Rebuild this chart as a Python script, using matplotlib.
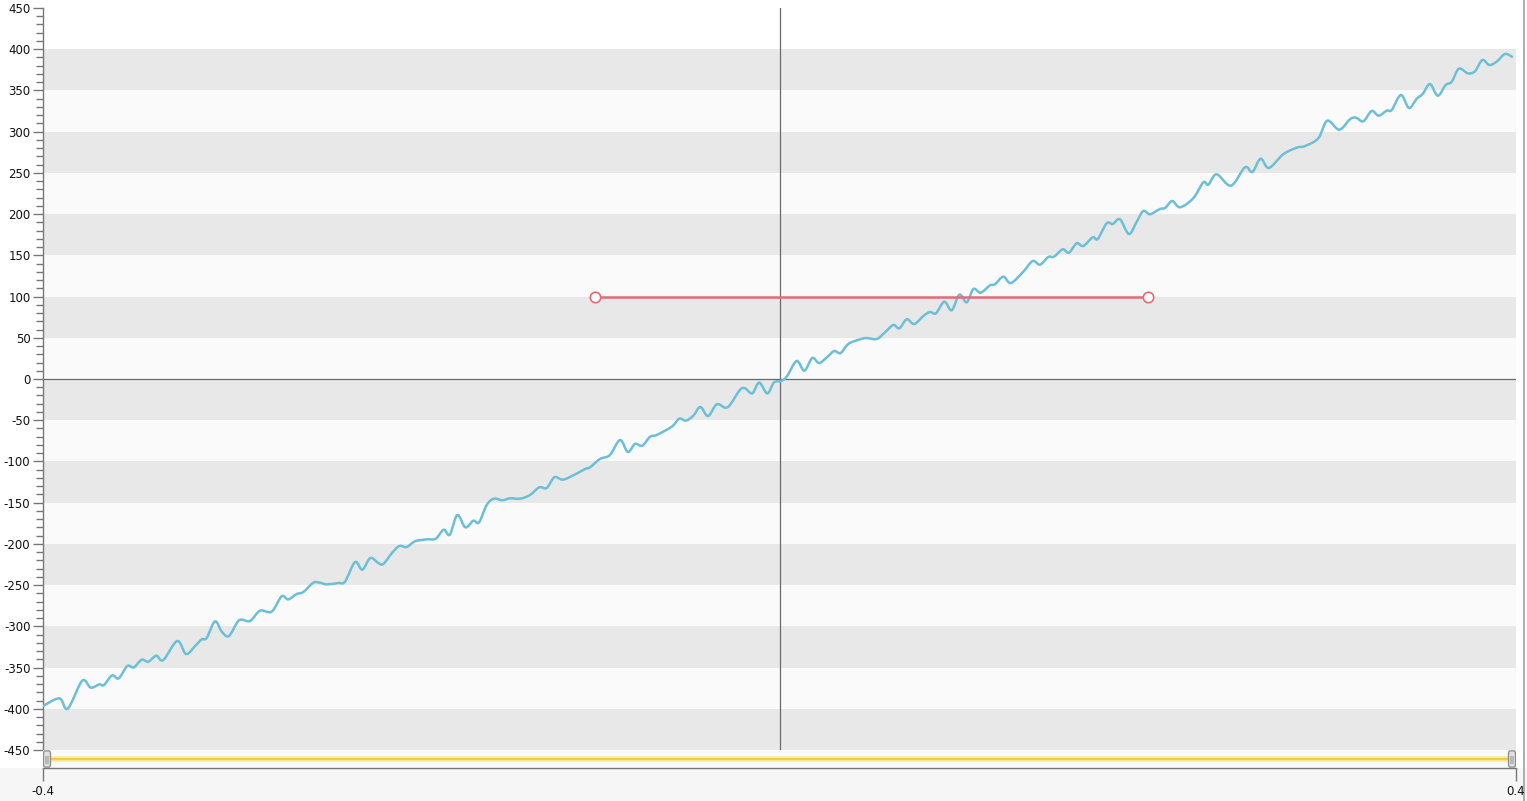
import matplotlib
matplotlib.use("Agg")
import matplotlib.pyplot as plt
from matplotlib.patches import FancyBboxPatch, Rectangle, PathPatch
from matplotlib.path import Path
import numpy as np

# ---- data ----
series_x = [-0.4000, -0.3911, -0.3866, -0.3787, -0.3741, -0.3694, -0.3669, -0.3625, -0.3589, -0.3542,
            -0.3507, -0.3464, -0.3428, -0.3385, -0.3347, -0.3271, -0.3223, -0.3174, -0.3138, -0.3111,
            -0.3066, -0.3029, -0.2990, -0.2935, -0.2876, -0.2821, -0.2758, -0.2704, -0.2668, -0.2622,
            -0.2586, -0.2532, -0.2496, -0.2459, -0.2396, -0.2360, -0.2305, -0.2266, -0.2222, -0.2179,
            -0.2152, -0.2106, -0.2065, -0.2025, -0.1980, -0.1916, -0.1867, -0.1824, -0.1791, -0.1750,
            -0.1706, -0.1663, -0.1632, -0.1590, -0.1551, -0.1505, -0.1464, -0.1409, -0.1355, -0.1305,
            -0.1264, -0.1223, -0.1180, -0.1138, -0.1056, -0.1029, -0.0975, -0.0921, -0.0866, -0.0824,
            -0.0785, -0.0745, -0.0703, -0.0667, -0.0585, -0.0544, -0.0508, -0.0468, -0.0430, -0.0388,
            -0.0341, -0.0296, -0.0269, -0.0215, -0.0187, -0.0148, -0.0110, -0.0066, -0.0030, 0.0007,
            0.0039, 0.0093, 0.0135, 0.0178, 0.0216, 0.0265, 0.0298, 0.0332, 0.0374, 0.0437,
            0.0474, 0.0528, 0.0573, 0.0618, 0.0651, 0.0691, 0.0732, 0.0781, 0.0817, 0.0850,
            0.0895, 0.0935, 0.0977, 0.1017, 0.1053, 0.1093, 0.1143, 0.1170, 0.1215, 0.1257,
            0.1324, 0.1375, 0.1415, 0.1460, 0.1491, 0.1538, 0.1572, 0.1614, 0.1650, 0.1701,
            0.1728, 0.1777, 0.1810, 0.1849, 0.1898, 0.1940, 0.1976, 0.2012, 0.2066, 0.2094,
            0.2133, 0.2175, 0.2247, 0.2302, 0.2329, 0.2374, 0.2452, 0.2528, 0.2568, 0.2613,
            0.2658, 0.2736, 0.2809, 0.2854, 0.2926, 0.2975, 0.3040, 0.3098, 0.3131, 0.3171,
            0.3216, 0.3254, 0.3298, 0.3325, 0.3375, 0.3419, 0.3461, 0.3493, 0.3533, 0.3575,
            0.3618, 0.3651, 0.3690, 0.3738, 0.3777, 0.3817, 0.3855, 0.3895, 0.3940, 0.3978]
series_y = [-396.6, -387.4, -399.9, -366.0, -374.4, -370.4, -371.2, -359.5, -363.1, -348.1,
            -349.8, -340.5, -342.9, -335.6, -340.9, -317.8, -333.6, -323.9, -315.8, -314.2,
            -294.0, -306.5, -311.7, -292.7, -293.5, -281.0, -282.2, -263.6, -267.3, -260.8,
            -258.4, -247.1, -247.1, -249.1, -247.4, -245.8, -222.0, -231.3, -217.1, -223.2,
            -224.4, -211.5, -202.6, -203.8, -196.9, -194.5, -193.7, -182.8, -188.9, -165.0,
            -179.9, -171.9, -173.9, -152.8, -145.2, -147.1, -144.7, -145.2, -140.7, -131.4,
            -132.2, -119.2, -122.1, -118.9, -109.2, -107.1, -97.0, -92.2, -74.0, -88.5,
            -78.8, -80.9, -70.0, -67.9, -57.8, -48.1, -50.5, -44.5, -34.0, -44.9,
            -30.7, -34.8, -31.5, -13.3, -11.3, -17.4, -4.4, -17.4, -4.1, -2.5,
            2.8, 21.8, 10.1, 25.5, 19.4, 27.9, 34.0, 31.5, 42.5, 48.1,
            49.7, 48.5, 56.6, 65.5, 61.5, 72.4, 66.7, 76.4, 81.3, 79.7,
            93.8, 83.3, 102.3, 93.0, 109.2, 104.7, 113.6, 114.9, 124.1, 116.4,
            130.2, 143.1, 138.7, 148.0, 148.4, 157.3, 153.2, 164.6, 161.3, 171.9,
            169.8, 188.9, 188.0, 193.7, 175.9, 190.8, 203.8, 199.8, 206.2, 207.4,
            215.9, 208.3, 219.2, 238.6, 235.7, 248.3, 234.5, 256.8, 251.1, 267.2,
            256.0, 272.6, 280.6, 282.6, 291.9, 313.3, 302.4, 315.0, 317.0, 312.6,
            325.1, 319.4, 325.5, 326.3, 344.5, 328.7, 340.0, 345.7, 357.8, 343.6,
            356.6, 360.6, 376.4, 370.8, 373.2, 386.9, 380.9, 384.9, 394.2, 391.0]
threshold_x = [-0.1, 0.2]
threshold_y = [100, 100]
y_ticks = list(range(-450, 451, 50))
x_tick_labels = ["-0.4", "0.4"]
x_ticks = [-0.4, 0.4]

W, H = 1527, 801
fig = plt.figure(figsize=(W / 100, H / 100), dpi=100, facecolor="white")

# bottom grey strip (behind the axes)
fig.patches.append(Rectangle((0, 0), 1, 1 - 768 / H, transform=fig.transFigure,
                             facecolor="#f6f6f6", edgecolor="none", zorder=-5))
# right border line
fig.lines.append(plt.Line2D([1524 / W, 1524 / W], [0, 1], transform=fig.transFigure,
                            color="#a0a0a0", lw=1.2, zorder=-4))

L, R = 43 / W, 1516 / W
ax = fig.add_axes([L, 1 - 750 / H, R - L, (750 - 8) / H])
ax.set_xlim(-0.4, 0.4)
ax.set_ylim(-450, 450)
ax.patch.set_alpha(0)

# alternating bands
for i, lo in enumerate(range(-450, 450, 50)):
    col = "#e8e8e8" if (i % 2 == 0) else "#fafafa"
    if lo == 400:
        col = "#ffffff"
    ax.axhspan(lo, lo + 50, color=col, lw=0, zorder=0)

ax.axhline(0, color="#6a6a6a", lw=0.9, zorder=1)
ax.axvline(0, color="#6a6a6a", lw=0.9, zorder=1)

# smooth rendering (Catmull-Rom drawn as cubic Bezier segments) through the read points
px = np.array(series_x)
py = np.array(series_y)
sx = (px - (-0.4)) / 0.8
sy = (py - (-450)) / 900
pts = np.column_stack([sx, sy])
ext = np.vstack([pts[0], pts, pts[-1]])
verts = [tuple(pts[0])]
codes = [Path.MOVETO]
for i in range(1, len(ext) - 2):
    p0, p1, p2, p3 = ext[i - 1], ext[i], ext[i + 1], ext[i + 2]
    c1 = p1 + (p2 - p0) / 6.0
    c2 = p2 - (p3 - p1) / 6.0
    verts += [tuple(c1), tuple(c2), tuple(p2)]
    codes += [Path.CURVE4] * 3
curve = Path(verts, codes)
ax.add_patch(PathPatch(curve, transform=ax.transAxes, facecolor="none",
                       edgecolor="#6cc0d5", lw=1.8, zorder=3, capstyle="round", joinstyle="round"))

ax.plot(threshold_x, threshold_y, color="#e46a78", lw=1.8, zorder=4,
        marker="o", markersize=7.5, markerfacecolor="white", markeredgecolor="#e46a78",
        markeredgewidth=1.2)

for s in ["top", "right", "bottom"]:
    ax.spines[s].set_visible(False)
ax.spines["left"].set_color("#777777")
ax.spines["left"].set_linewidth(1.0)
ax.set_yticks(y_ticks)
ax.set_yticklabels([str(v) for v in y_ticks])
ax.set_yticks(np.arange(-450, 451, 10), minor=True)
ax.tick_params(axis="y", which="major", length=7, width=1, color="#777777",
               labelsize=8.5, labelcolor="#111111", pad=2)
ax.tick_params(axis="y", which="minor", length=5, width=1, color="#777777")
ax.set_xticks([])

# scrollbar / x axis strip
ax2 = fig.add_axes([L, 1 - 768 / H, R - L, 18 / H])
ax2.set_xlim(-0.4, 0.4)
ax2.set_ylim(0, 1)
ax2.set_facecolor("#fafafa")
ax2.plot([-0.397, 0.397], [0.5, 0.5], color="#fbe9a8", lw=4, solid_capstyle="butt")
ax2.plot([-0.397, 0.397], [0.5, 0.5], color="#f2cf3a", lw=1.6, solid_capstyle="butt")
hw = 0.8 * 7 / 1473
for cx in (-0.4 + 0.8 * 4 / 1473, 0.4 - 0.8 * 4 / 1473):
    ax2.add_patch(FancyBboxPatch((cx - hw / 2, 0.05), hw, 0.9,
                                 boxstyle="round,pad=0,rounding_size=0.0008",
                                 facecolor="#e0e0e0", edgecolor="#8a8a8a", lw=0.9,
                                 mutation_aspect=200, zorder=5))
    ax2.add_patch(Rectangle((cx - hw / 4, 0.25), hw / 2, 0.4, facecolor="#b8b8b8",
                            edgecolor="none", zorder=6))
for s in ["top", "right", "left"]:
    ax2.spines[s].set_visible(False)
ax2.spines["bottom"].set_color("#777777")
ax2.spines["bottom"].set_linewidth(1.0)
ax2.set_yticks([])
ax2.set_xticks(x_ticks)
ax2.set_xticklabels(x_tick_labels)
ax2.tick_params(axis="x", length=9, width=1, color="#777777", labelsize=8.5,
                labelcolor="#111111", pad=3)

fig.savefig("out.png", dpi=100, facecolor=fig.get_facecolor())
